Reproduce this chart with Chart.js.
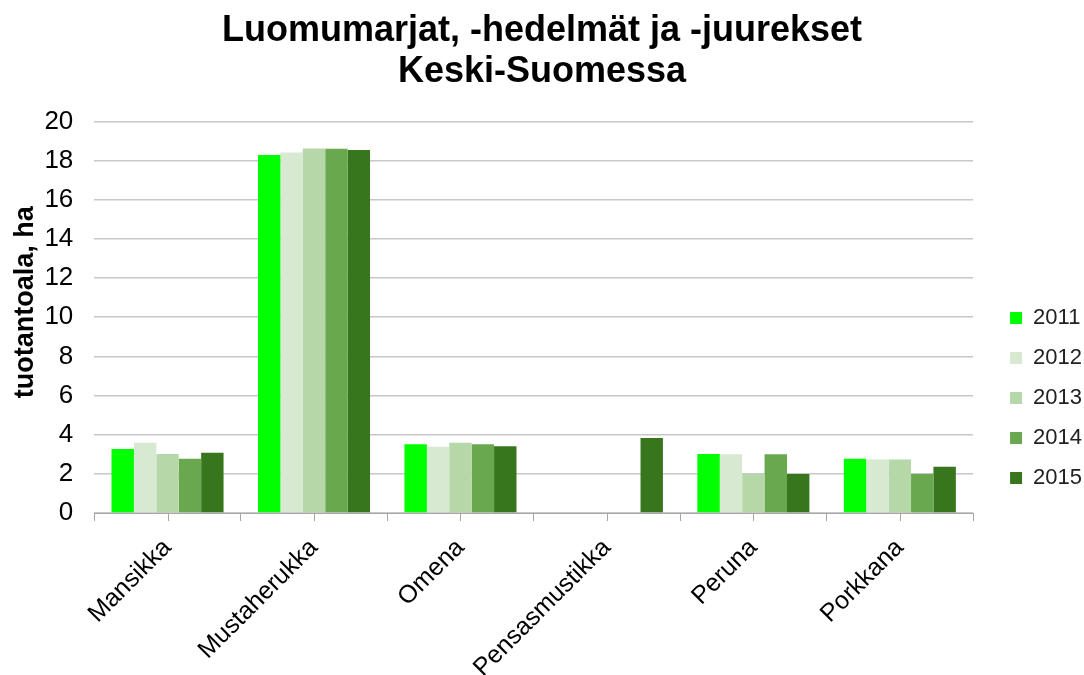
<!DOCTYPE html>
<html>
<head>
<meta charset="utf-8">
<script src="https://cdn.jsdelivr.net/npm/chart.js@4.4.1/dist/chart.umd.min.js"></script>
<style>
html,body{margin:0;padding:0;background:#fff;}
#wrap{width:1084px;height:675px;position:relative;}
</style>
</head>
<body>
<div id="wrap"><canvas id="c"></canvas></div>
<script>
const categories = ["Mansikka", "Mustaherukka", "Omena", "Pensasmustikka", "Peruna", "Porkkana"];
const years = ["2011", "2012", "2013", "2014", "2015"];
const v2011 = [3.27, 18.28, 3.51, null, 3.02, 2.78];
const v2012 = [3.59, 18.41, 3.39, null, 3.0, 2.73];
const v2013 = [3.02, 18.61, 3.59, null, 2.0, 2.73];
const v2014 = [2.78, 18.6, 3.51, null, 3.0, 2.0];
const v2015 = [3.08, 18.54, 3.41, 3.83, 2.0, 2.37];
const colors = ["#00ff00", "#d8e9d2", "#b6d7a8", "#6aa84f", "#38761d"];
const yTicks = [0, 2, 4, 6, 8, 10, 12, 14, 16, 18, 20];
const titleLines = ["Luomumarjat, -hedelmät ja -juurekset", "Keski-Suomessa"];
const yTitle = "tuotantoala, ha";

const series = [v2011, v2012, v2013, v2014, v2015];
const FONT = "'Liberation Sans', Arial, sans-serif";

const centerTicks = {
  id: 'centerTicks',
  afterDraw(chart) {
    const x = chart.scales.x;
    const ctx = chart.ctx;
    ctx.save();
    ctx.strokeStyle = '#a6a6a6';
    ctx.lineWidth = 1;
    for (let i = 0; i < categories.length; i++) {
      const px = Math.round(x.getPixelForValue(i)) + 0.5;
      ctx.beginPath();
      ctx.moveTo(px, x.top);
      ctx.lineTo(px, x.top + 8);
      ctx.stroke();
    }
    ctx.restore();
  }
};

new Chart(document.getElementById('c'), {
  type: 'bar',
  data: {
    labels: categories,
    datasets: years.map((y, i) => ({
      label: y,
      data: series[i],
      backgroundColor: colors[i],
      borderWidth: 0,
      categoryPercentage: 0.765,
      barPercentage: 1.0
    }))
  },
  options: {
    responsive: true,
    maintainAspectRatio: false,
    animation: false,
    layout: { padding: { left: -8, right: -8, top: 7, bottom: 0 } },
    plugins: {
      title: {
        display: true,
        text: titleLines,
        color: '#000',
        font: { family: FONT, size: 36, weight: 'bold', lineHeight: 1.13 },
        padding: { top: 4, bottom: 29 }
      },
      legend: {
        position: 'right',
        align: 'center',
        title: {
          display: true,
          text: ' ',
          font: { family: FONT, size: 10 },
          padding: { top: 51, bottom: 51 }
        },
        labels: {
          color: '#222',
          font: { family: FONT, size: 22 },
          boxWidth: 12,
          boxHeight: 12,
          padding: 18
        }
      },
      tooltip: { enabled: false }
    },
    scales: {
      x: {
        afterFit(scale) { scale.paddingLeft = 0; scale.paddingRight = 0; scale.height = scale.height - 20; },
        grid: {
          display: true,
          drawOnChartArea: false,
          offset: true,
          tickLength: 8,
          color: '#a6a6a6'
        },
        border: { display: true, color: '#a6a6a6', width: 1 },
        ticks: {
          color: '#000',
          font: { family: FONT, size: 25 },
          maxRotation: 45,
          minRotation: 45,
          padding: 12
        }
      },
      y: {
        min: 0,
        max: 20,
        afterBuildTicks(scale) { scale.ticks = yTicks.map(v => ({ value: v })); },
        afterFit(scale) { scale.width = scale.width - 21; },
        grid: { color: '#c8c8c8', lineWidth: 1.5, drawTicks: false },
        border: { display: false },
        ticks: {
          color: '#000',
          font: { family: FONT, size: 26 },
          padding: 21
        },
        title: {
          display: true,
          text: "    " + yTitle,
          color: '#000',
          font: { family: FONT, size: 27, weight: 'bold' },
          padding: { top: 17, bottom: 3 }
        }
      },
      gap: {
        type: 'linear',
        position: 'right',
        display: true,
        afterFit(scale) { scale.width = 19; },
        grid: { display: false, drawOnChartArea: false, drawTicks: false },
        border: { display: false },
        ticks: { display: false }
      }
    }
  },
  plugins: [centerTicks]
});
</script>
</body>
</html>
